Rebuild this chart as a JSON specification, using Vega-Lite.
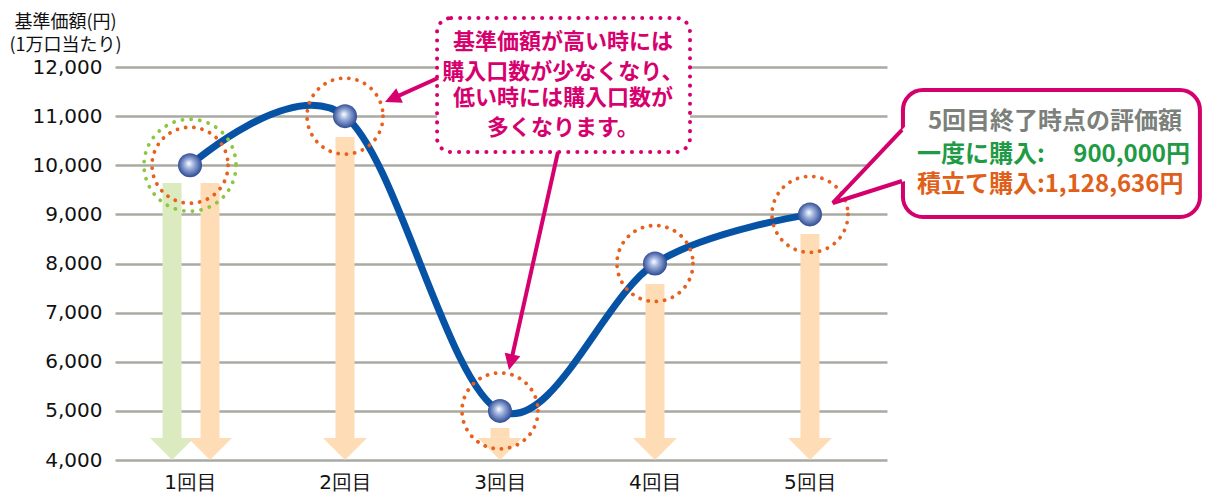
{
  "$schema": "https://vega.github.io/schema/vega-lite/v6.json",
  "width": 772,
  "height": 393,
  "autosize": {"type": "none"},
  "padding": {"left": 115, "top": 67, "right": 320, "bottom": 38},
  "background": "white",
  "config": {
    "view": {"stroke": null},
    "font": "Noto Sans CJK JP",
    "axisY": {
      "titleAngle": 0,
      "titleAlign": "center",
      "titleBaseline": "alphabetic",
      "titleX": -50,
      "titleY": -40,
      "titleFont": "Noto Sans CJK JP",
      "titleFontSize": 18,
      "titleFontWeight": "normal",
      "titleLineHeight": 23,
      "titleColor": "#111111",
      "grid": true,
      "gridColor": "#a9aaa2",
      "gridWidth": 2.5,
      "domain": false,
      "ticks": false,
      "labelFont": "DejaVu Sans",
      "labelFontSize": 20,
      "labelColor": "#111111",
      "labelPadding": 13
    },
    "axisX": {
      "grid": false,
      "domain": false,
      "ticks": false,
      "labelFont": "DejaVu Sans",
      "labelFontSize": 20,
      "labelColor": "#111111",
      "labelPadding": 12
    }
  },
  "resolve": {"scale": {"color": "independent"}},
  "datasets": {
    "line": [
      {"n": 1, "v": 10000},
      {"n": 2, "v": 11000},
      {"n": 3, "v": 5000},
      {"n": 4, "v": 8000},
      {"n": 5, "v": 9000}
    ],
    "arrows": [
      {"n": 0.884, "v": 9640, "kind": "一度に購入"},
      {"n": 1.129, "v": 9640, "kind": "積立て購入"},
      {"n": 2, "v": 10575, "kind": "積立て購入"},
      {"n": 3, "v": 4651, "kind": "積立て購入"},
      {"n": 4, "v": 7583, "kind": "積立て購入"},
      {"n": 5, "v": 8600, "kind": "積立て購入"}
    ],
    "note1": [
      {"n": 3.406, "v": 12509, "label": "基準価額が高い時には"},
      {"n": 3.406, "v": 11898, "label": "購入口数が少なくなり、"},
      {"n": 3.406, "v": 11369, "label": "低い時には購入口数が"},
      {"n": 3.406, "v": 10758, "label": "多くなります。"}
    ],
    "note2": [
      {"n": 6.581, "v": 10880, "label": "5回目終了時点の評価額", "kind": "title", "side": "center"},
      {"n": 5.69, "v": 10209, "label": "一度に購入:", "kind": "lump", "side": "left"},
      {"n": 7.452, "v": 10209, "label": "900,000円", "kind": "lump", "side": "right"},
      {"n": 5.69, "v": 9598, "label": "積立て購入:1,128,636円", "kind": "dca", "side": "left"}
    ]
  },
  "encoding": {
    "x": {
      "field": "n",
      "type": "quantitative",
      "scale": {"domain": [0.516, 5.497], "nice": false, "zero": false},
      "axis": {"values": [1, 2, 3, 4, 5], "labelExpr": "datum.value + '回目'", "title": null}
    },
    "y": {
      "field": "v",
      "type": "quantitative",
      "scale": {"domain": [4000, 12000], "nice": false, "zero": false},
      "axis": {
        "values": [4000, 5000, 6000, 7000, 8000, 9000, 10000, 11000, 12000],
        "format": ",d",
        "title": ["基準価額(円)", "(1万口当たり)"]
      }
    }
  },
  "layer": [
    {
      "data": {"name": "arrows"},
      "mark": {"type": "rule", "strokeWidth": 19, "strokeCap": "butt"},
      "encoding": {
        "y2": {"datum": 4450},
        "color": {"field": "kind", "type": "nominal", "scale": {"domain": ["一度に購入", "積立て購入"], "range": ["#dcebbf", "#fddcb6"]}, "legend": null}
      }
    },
    {
      "data": {"name": "arrows"},
      "mark": {"type": "point", "shape": "M0,0L-1,-1L1,-1Z", "filled": true, "size": 1936, "opacity": 1, "strokeWidth": 0},
      "encoding": {
        "y": {
          "datum": 4000,
          "type": "quantitative",
          "scale": {"domain": [4000, 12000], "nice": false, "zero": false},
          "axis": {
            "values": [4000, 5000, 6000, 7000, 8000, 9000, 10000, 11000, 12000],
            "format": ",d",
            "title": ["基準価額(円)", "(1万口当たり)"]
          }
        },
        "color": {"field": "kind", "type": "nominal", "scale": {"domain": ["一度に購入", "積立て購入"], "range": ["#dcebbf", "#fddcb6"]}, "legend": null}
      }
    },
    {
      "data": {"name": "line"},
      "mark": {"type": "line", "interpolate": "cardinal", "color": "#0653a6", "strokeWidth": 7}
    },
    {
      "data": {"name": "line"},
      "transform": [{"filter": "datum.n == 1"}],
      "mark": {"type": "point", "shape": "circle", "filled": false, "size": 8464, "stroke": "#8dc63f", "strokeWidth": 3.8, "strokeDash": [0.1, 8.6], "strokeCap": "round", "opacity": 1}
    },
    {
      "data": {"name": "line"},
      "mark": {"type": "point", "shape": "circle", "filled": false, "size": 5776, "stroke": "#e8601c", "strokeWidth": 3.8, "strokeDash": [0.1, 8.2], "strokeCap": "round", "opacity": 1}
    },
    {
      "data": {"name": "line"},
      "mark": {
        "type": "point",
        "shape": "circle",
        "filled": true,
        "size": 576,
        "opacity": 1,
        "strokeWidth": 0,
        "fill": {
          "gradient": "radial",
          "x1": 0.45, "y1": 0.42, "r1": 0,
          "x2": 0.5, "y2": 0.5, "r2": 0.55,
          "stops": [
            {"offset": 0, "color": "#ffffff"},
            {"offset": 0.35, "color": "#9fb3de"},
            {"offset": 1, "color": "#1f3c8a"}
          ]
        }
      }
    },
    {
      "data": {"values": [{"n": 2.594, "n2": 4.226, "v": 12997, "v2": 10270}]},
      "mark": {"type": "rect", "fill": "white", "stroke": "#d6006e", "strokeWidth": 4, "strokeDash": [0.1, 9], "strokeCap": "round", "cornerRadius": 14},
      "encoding": {"x2": {"field": "n2"}, "y2": {"field": "v2"}}
    },
    {
      "data": {"values": [{"n": 2.6, "v": 11776, "n2": 2.305, "v2": 11355}, {"n": 3.374, "v": 10270, "n2": 3.07, "v2": 5991}]},
      "mark": {"type": "rule", "color": "#d6006e", "strokeWidth": 4},
      "encoding": {"x2": {"field": "n2"}, "y2": {"field": "v2"}}
    },
    {
      "data": {"values": [{"n": 2.258, "v": 11287}]},
      "mark": {"type": "point", "shape": "M0,0L-1,-2L1,-2Z", "filled": true, "size": 256, "angle": 65.7, "color": "#d6006e", "opacity": 1, "strokeWidth": 0}
    },
    {
      "data": {"values": [{"n": 3.058, "v": 5832}]},
      "mark": {"type": "point", "shape": "M0,0L-1,-2L1,-2Z", "filled": true, "size": 256, "angle": 12.7, "color": "#d6006e", "opacity": 1, "strokeWidth": 0}
    },
    {
      "data": {"name": "note1"},
      "mark": {"type": "text", "align": "center", "baseline": "middle", "font": "Noto Sans CJK JP", "fontSize": 22, "fontWeight": "bold", "color": "#d6006e"},
      "encoding": {"text": {"field": "label"}}
    },
    {
      "data": {"values": [{"n": 5.6, "n2": 7.516, "v": 11532, "v2": 8946}]},
      "mark": {"type": "rect", "fill": "white", "stroke": "#d4006c", "strokeWidth": 4, "cornerRadius": 20},
      "encoding": {"x2": {"field": "n2"}, "y2": {"field": "v2"}}
    },
    {
      "data": {"values": [{"n": 5.148, "v": 9232, "v2": 9232}, {"n": 5.619, "v": 10803, "v2": 9683}]},
      "mark": {"type": "area", "color": "white", "opacity": 1},
      "encoding": {"y2": {"field": "v2"}}
    },
    {
      "data": {"values": [{"o": 1, "n": 5.594, "v": 10718}, {"o": 2, "n": 5.148, "v": 9232}, {"o": 3, "n": 5.594, "v": 9680}]},
      "mark": {"type": "line", "color": "#d4006c", "strokeWidth": 4, "strokeJoin": "miter"},
      "encoding": {"order": {"field": "o", "type": "quantitative"}}
    },
    {
      "data": {"name": "note2"},
      "transform": [{"filter": "datum.side == 'center'"}],
      "mark": {"type": "text", "align": "center", "baseline": "middle", "font": "Noto Sans CJK JP", "fontSize": 24, "fontWeight": "bold", "color": "#7b807b"},
      "encoding": {"text": {"field": "label"}}
    },
    {
      "data": {"name": "note2"},
      "transform": [{"filter": "datum.side == 'left'"}],
      "mark": {"type": "text", "align": "left", "baseline": "middle", "font": "Noto Sans CJK JP", "fontSize": 24, "fontWeight": "bold"},
      "encoding": {
        "text": {"field": "label"},
        "color": {"field": "kind", "type": "nominal", "scale": {"domain": ["lump", "dca"], "range": ["#1f9a45", "#e0601a"]}, "legend": null}
      }
    },
    {
      "data": {"name": "note2"},
      "transform": [{"filter": "datum.side == 'right'"}],
      "mark": {"type": "text", "align": "right", "baseline": "middle", "font": "Noto Sans CJK JP", "fontSize": 24, "fontWeight": "bold", "color": "#1f9a45"},
      "encoding": {"text": {"field": "label"}}
    }
  ]
}
